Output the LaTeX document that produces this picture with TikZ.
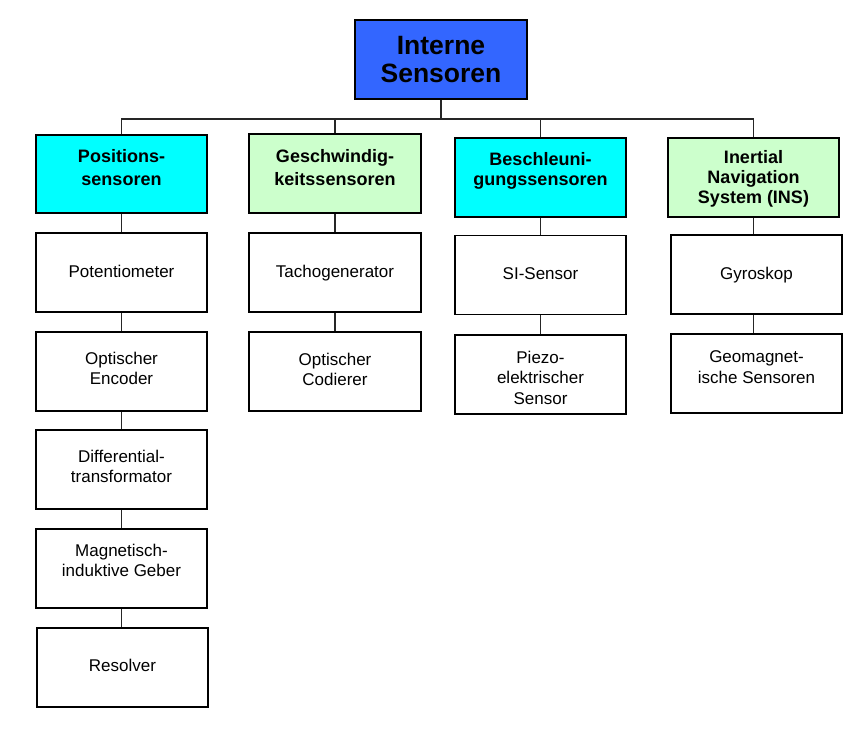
\documentclass[tikz,border=0pt]{standalone}
\usepackage{fontspec}
\setmainfont{Liberation Sans}
\definecolor{topblue}{HTML}{3366FF}
\definecolor{cyanbox}{HTML}{00FFFF}
\definecolor{greenbox}{HTML}{CCFFCC}
\tikzset{
  box/.style={draw=black, line width=1.8pt, inner sep=0pt, minimum width=171pt, minimum height=79pt},
  txt/.style={anchor=north, inner sep=0pt, align=center, font=\fontsize{17}{20.5}\selectfont},
  btxt/.style={anchor=north, inner sep=0pt, align=center, font=\fontsize{18}{20}\selectfont\bfseries},
  btxtw/.style={anchor=north, inner sep=0pt, align=center, font=\fontsize{18}{23}\selectfont\bfseries},
  conn/.style={draw=black!85, line width=1.5pt}
}
\begin{document}
\begin{tikzpicture}[x=1pt,y=-1pt]
\useasboundingbox (0,0) rectangle (863,729);
% connectors (behind boxes)
\coordinate (bus) at (0,119);
% boxes
\node[box, fill=topblue, minimum width=172pt] (top) at (441,59.5) {};
\node[box, fill=cyanbox, minimum height=78pt] (pos) at (121.5,174) {};
\node[box, fill=greenbox, minimum width=172pt] (ges) at (335,173.5) {};
\node[box, fill=cyanbox] (bes) at (540.5,177.5) {};
\node[box, fill=greenbox] (ins) at (753.5,177.5) {};
\node[box, fill=white] (pot) at (121.5,272.5) {};
\node[box, fill=white] (enc) at (121.5,371.5) {};
\node[box, fill=white] (dif) at (121.5,469.5) {};
\node[box, fill=white] (mag) at (121.5,568.5) {};
\node[box, fill=white] (res) at (122.5,667.5) {};
\node[box, fill=white, minimum width=172pt] (tac) at (335,272.5) {};
\node[box, fill=white, minimum width=172pt] (cod) at (335,371.5) {};
\node[box, fill=white] (si) at (540.5,275) {};
\node[box, fill=white] (pie) at (540.5,374.5) {};
\node[box, fill=white] (gyr) at (756.5,274.5) {};
\node[box, fill=white] (geo) at (756.5,373.5) {};
% texts
\node[anchor=north, inner sep=0pt, align=center, font=\fontsize{26.5}{28}\selectfont\bfseries] (top-t) at (441,35.8) {Interne\\Sensoren};
\node[btxtw] (pos-t) at (121.5,149) {Positions-\\sensoren};
\node[btxtw] (ges-t) at (335,149) {Geschwindig-\\keitssensoren};
\node[btxt] (bes-t) at (540.5,152) {Beschleuni-\\gungssensoren};
\node[btxt] (ins-t) at (753.5,150) {Inertial\\Navigation\\System (INS)};
\node[txt] (pot-t) at (121.5,264.7) {Potentiometer};
\node[txt] (enc-t) at (121.5,351.7) {Optischer\\Encoder};
\node[txt] (dif-t) at (121.5,449.7) {Differential-\\transformator};
\node[txt] (mag-t) at (121.5,543.7) {Magnetisch-\\induktive Geber};
\node[txt] (res-t) at (122.5,658.7) {Resolver};
\node[txt] (tac-t) at (335,264.7) {Tachogenerator};
\node[txt] (cod-t) at (335,352.7) {Optischer\\Codierer};
\node[txt] (si-t) at (540.5,267.7) {SI-Sensor};
\node[txt] (pie-t) at (540.5,350.7) {Piezo-\\elektrischer\\Sensor};
\node[txt] (gyr-t) at (756.5,266.7) {Gyroskop};
\node[txt] (geo-t) at (756.5,350.7) {Geomagnet-\\ische Sensoren};
% bus
\draw[conn] (top.south) -- (top.south |- bus);
\draw[conn] (pos.north) -- (pos.north |- bus) -- (ins.north |- bus) -- (ins.north);
\draw[conn] (ges.north |- bus) -- (ges.north);
\draw[conn] (bes.north |- bus) -- (bes.north);
% column connectors
\draw[conn] (pos.south) -- (pot.north);
\draw[conn] (pot.south) -- (enc.north);
\draw[conn] (enc.south) -- (dif.north);
\draw[conn] (dif.south) -- (mag.north);
\draw[conn] (mag.south) -- (mag.south |- res.north);
\draw[conn] (ges.south) -- (tac.north);
\draw[conn] (tac.south) -- (cod.north);
\draw[conn] (bes.south) -- (si.north);
\draw[conn] (si.south) -- (pie.north);
\draw[conn] (ins.south) -- (ins.south |- gyr.north);
\draw[conn] (ins.south |- gyr.south) -- (ins.south |- geo.north);
\end{tikzpicture}
\end{document}
